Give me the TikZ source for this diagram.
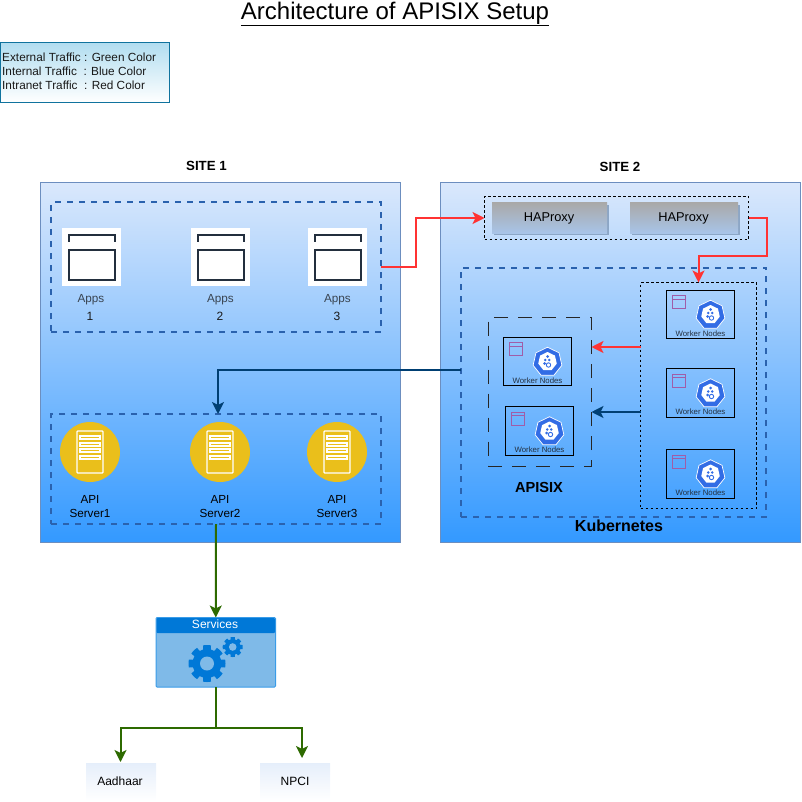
\documentclass[tikz,border=0pt]{standalone}
\usepackage{fontspec}
\setmainfont{Liberation Sans}
\usetikzlibrary{arrows.meta,shapes.geometric,calc}
\definecolor{siteb}{HTML}{6C8EBF}
\definecolor{sitetop}{HTML}{DAE8FC}
\definecolor{sitebot}{HTML}{3399FF}
\definecolor{grpblue}{HTML}{2A62AE}
\definecolor{redline}{HTML}{FF3333}
\definecolor{navy}{HTML}{003F73}
\definecolor{greenline}{HTML}{2D6A00}
\definecolor{appdark}{HTML}{232F3E}
\definecolor{kubeblue}{HTML}{326CE5}
\definecolor{pinkline}{HTML}{A05DA8}
\definecolor{svcblue}{HTML}{0078D7}
\definecolor{svcfill}{HTML}{7FBAE8}
\definecolor{gold}{HTML}{EABF1B}
\definecolor{hatop}{HTML}{A9A9A9}
\definecolor{habot}{HTML}{A8C4E8}
\definecolor{hashade}{HTML}{8CA6C6}
\definecolor{glassmid}{HTML}{CCDEF6}
\newcommand{\fs}[1]{\fontsize{#1}{#1}\selectfont}
\newcommand{\bx}[6][]{\node[rectangle,inner sep=0pt,outer sep=0pt,minimum width={(#5)-(#3)},minimum height={(#6)-(#4)},#1] (#2) at ({((#3)+(#5))/2},{((#4)+(#6))/2}) {};}
\newcommand{\workernode}[3]{%
  \bx[draw=black,line width=1pt,fill=none]{#1}{#2}{#3}{#2+68.5}{#3+48.5}
  \draw[pinkline,line width=.8pt] (#2+6.5,#3+5.5) rectangle (#2+19.5,#3+18.5) (#2+6.5,#3+9) -- (#2+19.5,#3+9);
  \node[regular polygon,regular polygon sides=7,minimum size=29.5pt,inner sep=0pt,fill=kubeblue,draw=white,line width=.7pt] (#1-k) at (#2+44.5,#3+25) {};
  \node[regular polygon,regular polygon sides=7,minimum size=19pt,inner sep=0pt,fill=white] (#1-i) at (#2+44.5,#3+24.5) {};
  \fill[kubeblue] (#2+44.5,#3+19.5) circle (1.5pt) (#2+42.3,#3+23) circle (1.4pt) (#2+46.2,#3+23) circle (1.4pt) (#2+41.5,#3+26.5) circle (1.5pt);
  \draw[kubeblue,line width=.9pt] (#2+45.5,#3+28) circle (2.2pt);
  \node[font=\fs{7.8},text=appdark,inner sep=0pt] (#1-t) at (#2+34.5,#3+43.5) {Worker Nodes};
}
\newcommand{\appicon}[5]{%
  \bx[fill=white]{#1}{#2}{228}{#2+58.5}{286}
  \draw[appdark,line width=2pt] (#2+6.5,241.5) -- (#2+6.5,235) -- (#2+52.5,235) -- (#2+52.5,241.5);
  \draw[appdark,line width=2pt] (#2+6.5,249.5) rectangle (#2+52.5,280);
  \node[font=\fs{11.7},text=appdark!90,inner sep=0pt] (#1-a) at (#3,299.5) {Apps};
  \node[font=\fs{12},text=black!90,inner sep=0pt] (#1-n) at (#4,316.5) {#5};
}
\newcommand{\servericon}[3]{%
  \node[circle,fill=gold,minimum size=60pt,inner sep=0pt] (#1) at (#2,452) {};
  \draw[white,line width=1.3pt,rounded corners=.8pt] (#2-13,431) rectangle (#2+13,473);
  \foreach \yy in {436,443,449,456}{\draw[white,line width=1.3pt] (#2-10,\yy) rectangle (#2+10,\yy+3);}
  \node[font=\fs{11.7},align=center,text=black,inner sep=0pt] (#1-t) at (#2,506.5) {API\\[1.5pt]Server#3};
}
\newcommand{\gear}[4]{%
  \fill[svcblue] plot[samples at={0,2.5,...,357.5},variable=\t] ({#1+(mod(\t+13,45)<26?#3:0.78*#3)*cos(\t)},{#2+(mod(\t+13,45)<26?#3:0.78*#3)*sin(\t)}) -- cycle;
  \fill[svcfill] (#1,#2) circle (#4pt);
}
\tikzset{
  sitebox/.style={draw=siteb,line width=1pt,top color=sitetop,bottom color=sitebot},
  bluedash/.style={draw=grpblue,line width=2pt,dash pattern=on 6pt off 6pt,fill=none},
  blackdot/.style={draw=black,line width=1pt,dash pattern=on 2.5pt off 2.5pt,fill=none},
  longdash/.style={draw=black!85,line width=1pt,dash pattern=on 14pt off 10pt,fill=none},
  haproxybox/.style={top color=hatop,bottom color=habot,draw=none},
  hashadow/.style={fill=hashade,draw=none},
  glass/.style={top color=glassmid!50!white,middle color=glassmid,bottom color=white,draw=none},
  conn/.style={line width=2pt,-{Stealth[length=12pt,width=12pt,inset=3pt]}},
  rconn/.style={conn,redline},
  bconn/.style={conn,navy},
  gconn/.style={conn,greenline},
}
\begin{document}
\begin{tikzpicture}[x=1pt,y=-1pt]
\useasboundingbox (0,0) rectangle (801,802);
% title and legend
\node[font=\fs{24},inner sep=0pt] (title) at (395,14) {\underline{Architecture of APISIX Setup}};
\bx[draw={rgb,255:red,16;green,115;blue,158},line width=1pt,top color={rgb,255:red,177;green,221;blue,240},bottom color=white]{legend}{0.5}{42.5}{169.5}{102.5}
\node[font=\fontsize{11.8}{14}\selectfont,align=left,anchor=north west,inner sep=0pt,text=black!90] (legendtext) at (2,52.5) {External Traffic : Green Color\\Internal Traffic\ \ : Blue Color\\Intranet Traffic\ \ : Red Color};
% sites
\bx[sitebox]{site1}{40.5}{182.5}{400.5}{542.5}
\bx[sitebox]{site2}{440.5}{182.5}{800.5}{542.5}
\node[font=\bfseries\fs{13.3},inner sep=0pt] (site1t) at (206.5,165.5) {SITE 1};
\node[font=\bfseries\fs{13.3},inner sep=0pt] (site2t) at (620,166.5) {SITE 2};
% site 1
\bx[bluedash]{appsgrp}{51}{202.5}{381}{332}
\appicon{app1}{62}{91}{90}{1}
\appicon{app2}{191}{220.5}{220}{2}
\appicon{app3}{308}{337.5}{337}{3}
\bx[bluedash]{srvgrp}{51}{414}{381}{524}
\servericon{srv1}{90}{1}
\servericon{srv2}{220}{2}
\servericon{srv3}{337}{3}
% site 2
\bx[blackdot]{hagrp}{484.5}{196.5}{748.5}{239.5}
\bx[hashadow]{ha1s}{494}{205}{609}{235}
\bx[haproxybox]{ha1}{492}{203}{607}{233}
\node[font=\fs{12.8},inner sep=0pt] (ha1t) at (549,218) {HAProxy};
\bx[hashadow]{ha2s}{632}{205}{740}{235}
\bx[haproxybox]{ha2}{630}{203}{738}{233}
\node[font=\fs{12.8},inner sep=0pt] (ha2t) at (683.5,218) {HAProxy};
\bx[bluedash]{k8s}{461}{267.5}{766}{517}
\bx[longdash]{apisix}{488}{317.5}{591.5}{466.5}
\bx[blackdot]{wgrp}{640.5}{282.5}{756.5}{508.5}
\workernode{w1}{666}{290}
\workernode{w2}{666}{368.5}
\workernode{w3}{666}{449.5}
\workernode{w4}{503}{337}
\workernode{w5}{505}{406.5}
\node[font=\bfseries\fs{14.6},inner sep=0pt] (apisixt) at (539,487.5) {APISIX};
\node[font=\bfseries\fs{16},inner sep=0pt] (k8st) at (619,525.5) {Kubernetes};
% services
\bx[draw={rgb,255:red,58;green,156;blue,232},line width=1pt,fill=svcfill,rounded corners=1pt]{svc}{156}{617.5}{275.5}{687}
\bx[fill=svcblue,rounded corners=1pt]{svch}{156.5}{618}{275}{633}
\node[font=\fs{12},text=white,inner sep=0pt] (svct) at (215,624) {Services};
\gear{207}{663.5}{18.5}{7}
\gear{232.7}{647}{10}{3.8}
\bx[glass]{aadhaar}{86}{763}{156}{801}
\node[font=\fs{12},inner sep=0pt] (aadhaart) at (120,781) {Aadhaar};
\bx[glass]{npci}{260}{763}{330}{801}
\node[font=\fs{12},inner sep=0pt] (npcit) at (295,781) {NPCI};
% connectors
\draw[rconn] (appsgrp.east) -| (416,218) -- (hagrp.west);
\draw[rconn] (hagrp.east) -| (766.5,255.5) -| (wgrp.north);
\draw[rconn] ([yshift=48.5pt]wgrp.west) -- ([yshift=48.5pt]wgrp.west -| apisix.east);
\draw[bconn] ([yshift=-16.5pt]wgrp.west) -- ([yshift=-16.5pt]wgrp.west -| apisix.east);
\draw[bconn] ([yshift=22.5pt]k8s.west) -| ([xshift=2pt]srvgrp.north);
\draw[gconn] (srvgrp.south) -- (svc.north);
\draw[gconn] (svc.south) |- (120.5,728) -- (120.5,762);
\draw[gconn] (svc.south) |- (302,728) -- (302,758);
\end{tikzpicture}
\end{document}
